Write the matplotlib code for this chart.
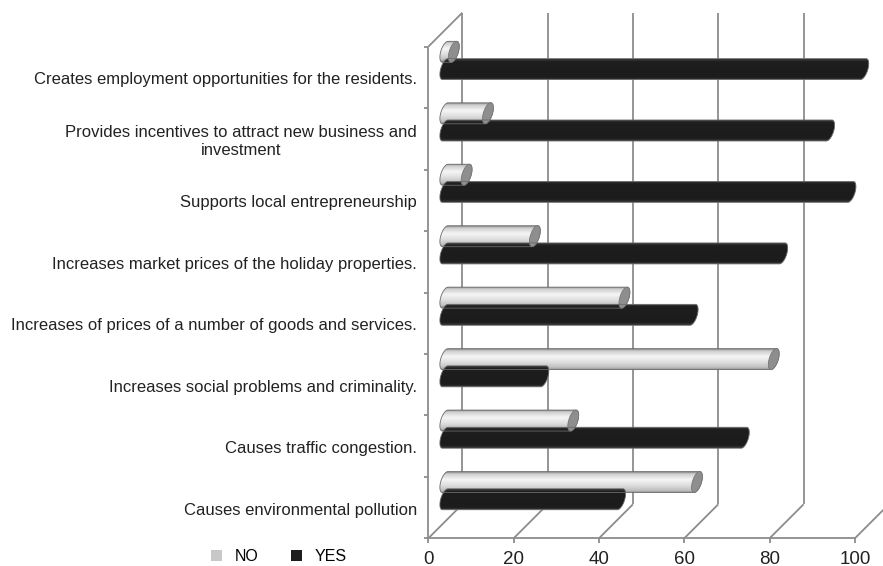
import numpy as np
import matplotlib
matplotlib.use('Agg')
import matplotlib.pyplot as plt
from matplotlib.patches import Polygon, Patch
from matplotlib.colors import LinearSegmentedColormap

# survey answers, top row of the chart first
categories = [
    'Creates employment opportunities for the residents.',
    'Provides incentives to attract new business and\ninvestment',
    'Supports local entrepreneurship',
    'Increases market prices of the holiday properties.',
    'Increases of prices of a number of goods and services.',
    'Increases social problems and criminality.',
    'Causes traffic congestion.',
    'Causes environmental pollution',
]
no_pct = [2, 10, 5, 21, 42, 77, 30, 59]
yes_pct = [98, 90, 95, 79, 58, 23, 70, 41]
x_ticks = [0, 20, 40, 60, 80, 100]
series_names = ['NO', 'YES']


def main():
    plt.rcParams['font.family'] = ['Liberation Sans', 'DejaVu Sans']

    W, H = 883, 566
    fig = plt.figure(figsize=(W / 100, H / 100), dpi=100)
    ax = fig.add_axes([0, 0, 1, 1])
    xlim = (-100.4, 106.6)
    ylim = (-0.45, 8.76)
    ax.set_xlim(xlim)
    ax.set_ylim(ylim)
    ax.axis('off')

    # pixels per data unit, used for the oblique (fake 3D) offsets
    xs = W / (xlim[1] - xlim[0])
    ys = H / (ylim[1] - ylim[0])
    depth = 34
    dx, dy = depth / xs, depth / ys
    n = len(categories)

    # ---------------- walls, floor and grid ----------------
    wall = dict(color='#8c8c8c', lw=1.3, zorder=1, solid_capstyle='butt')
    for v in x_ticks:
        ax.plot([v + dx, v + dx], [dy, n + dy], **wall)
        ax.plot([v, v + dx], [0, dy], **wall)
        ax.plot([v, v], [0, -5 / ys], **wall)
        ax.text(v, -0.34, str(v), ha='center', va='center', fontsize=13.5,
                color='#222222')
    ax.plot([0, x_ticks[-1]], [0, 0], **wall)
    ax.plot([0, 0], [0, n], **wall)
    ax.plot([0, dx], [n, n + dy], **wall)
    for i in range(n + 1):
        ax.plot([0, -4 / xs], [i, i], **wall)

    # ---------------- cylinders ----------------
    s, r = 0.6, 9.0
    t0 = np.arctan2(1, s)
    hh = r * np.sqrt(1 + s ** 2) / ys
    gap = 0.14

    def cap(theta):
        return (s * r * np.cos(theta) / xs,
                (r * np.sin(theta) + s * r * np.cos(theta)) / ys)

    no_cmap = LinearSegmentedColormap.from_list('no', [
        (0.0, '#8a8a8a'), (0.08, '#cdcdcd'), (0.35, '#f5f5f5'),
        (0.6, '#e2e2e2'), (0.88, '#c0c0c0'), (1.0, '#8a8a8a')])
    yes_cmap = LinearSegmentedColormap.from_list('yes', [
        (0.0, '#3a3a3a'), (0.12, '#1e1e1e'), (0.88, '#1c1c1c'), (1.0, '#3a3a3a')])
    grad = np.linspace(0, 1, 64).reshape(-1, 1)

    def cylinder(v, yc, cmap, cap_color):
        x0, y0 = dx / 2, yc + dy / 2
        x1 = x0 + v
        lx, ly = cap(np.linspace(t0, t0 + np.pi, 60))
        rx, ry = cap(np.linspace(t0 + np.pi, t0 + 2 * np.pi, 60))
        pts = np.column_stack([np.concatenate([x0 + lx, x1 + rx]),
                               np.concatenate([y0 + ly, y0 + ry])])
        body = Polygon(pts, closed=True, facecolor='none', edgecolor='#6a6a6a',
                       lw=0.6, zorder=4)
        ax.add_patch(body)
        im = ax.imshow(grad, cmap=cmap, aspect='auto', zorder=3,
                       extent=(x0 + lx.min(), x1 + rx.max(), y0 - hh, y0 + hh))
        im.set_clip_path(body)
        if cap_color is not None:
            ex, ey = cap(np.linspace(0, 2 * np.pi, 120))
            ax.add_patch(Polygon(np.column_stack([x1 + ex, y0 + ey]), closed=True,
                                 facecolor=cap_color, edgecolor='#777777',
                                 lw=0.6, zorder=4))

    for k in range(n):
        c = n - k - 0.5
        cylinder(no_pct[k], c + gap, no_cmap, '#8e8e8e')
        cylinder(yes_pct[k], c - gap, yes_cmap, None)
        ax.text(-2.7, c - 0.04, categories[k], ha='right', va='center',
                multialignment='center', fontsize=12, color='#222222')

    ax.set_xlim(xlim)
    ax.set_ylim(ylim)

    handles = [Patch(facecolor='#c8c8c8', edgecolor='none'),
               Patch(facecolor='#1e1e1e', edgecolor='none')]
    ax.legend(handles, series_names, loc='center', bbox_to_anchor=(0.316, 0.016),
              ncol=2, frameon=False, fontsize=11.5, handlelength=0.7,
              handleheight=0.7, handletextpad=0.8, columnspacing=2.0)

    fig.savefig('out.png', dpi=100)


if __name__ == '__main__':
    main()
